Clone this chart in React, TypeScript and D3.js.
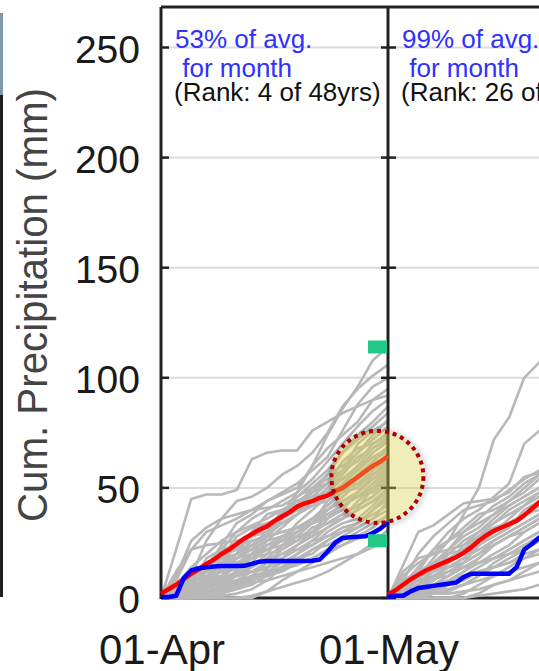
import React from "react";
import * as d3 from "d3";

const W = 539;
const H = 671;

// ---- data ----
const yTickValues = [0, 50, 100, 150, 200, 250];
const monthStarts = [Date.UTC(2000, 3, 1), Date.UTC(2000, 4, 1), Date.UTC(2000, 5, 1)];
const pctLabels = ["53% of avg.", "99% of avg."];
const monthLabel = " for month";
const rankLabels = ["(Rank: 4 of 48yrs)", "(Rank: 26 of 48yrs)"];
const yTitle = "Cum. Precipitation (mm)";

// daily cumulative values (day 0 = 1st of month)
const aprilAvg = [2, 4, 6, 8.5, 11, 13, 15.5, 17.5, 20, 22, 24.5, 27, 29, 31, 32.5, 35, 37, 39, 41.5, 43, 44, 45.5, 46.5, 48.5, 50, 52.5, 55, 57.5, 60, 62, 64.5];
const aprilCurrent = [0.5, 0.5, 1, 9, 12.5, 13.5, 14, 14.3, 14.5, 14.5, 14.5, 14.6, 15.5, 16.5, 16.8, 16.8, 16.8, 16.8, 16.8, 16.8, 16.9, 17.5, 21, 25, 27.3, 27.6, 27.8, 28, 29.5, 31.5, 34.5];
const mayAvg = [1.5, 3.5, 6, 8.5, 10.5, 12.5, 14, 15.5, 17, 18.5, 20.5, 23, 26, 28.5, 30.5, 32, 33.5, 35, 37.5, 40.5, 43.5, 46];
const mayCurrent = [0.5, 1, 1, 3, 4.5, 5, 5.5, 6, 6.5, 7, 9.5, 11, 11, 11, 11, 11, 11, 14, 22, 24.5, 27.5, 29];

// past years, sampled every 2 days
const sampleStep = 2;
const aprilYears = [
  [0, 1, 3, 6, 10, 14, 20, 28, 38, 48, 60, 74, 86, 96, 108, 114],
  [0, 22, 45, 47, 47, 49, 63, 66, 67, 67, 76, 80, 84, 87, 90, 92],
  [0, 4, 10, 26, 36, 44, 46, 50, 56, 60, 66, 75, 87, 95, 101, 106],
  [0, 1, 8, 14, 24, 34, 38, 44, 48, 52, 58, 64, 76, 88, 96, 100],
  [0, 8, 22, 30, 33, 36, 40, 44, 47, 50, 60, 68, 74, 80, 90, 95],
  [0, 3, 10, 14, 22, 30, 36, 40, 44, 48, 54, 62, 70, 78, 85, 90],
  [0, 0, 6, 12, 16, 20, 24, 30, 38, 44, 48, 56, 66, 74, 80, 87],
  [0, 10, 26, 32, 36, 38, 40, 41, 42, 46, 52, 58, 66, 72, 78, 84],
  [0, 2, 4, 8, 16, 24, 28, 32, 36, 42, 50, 56, 60, 66, 74, 81],
  [0, 0, 2, 6, 10, 18, 24, 28, 34, 38, 44, 50, 58, 66, 72, 78],
  [0, 6, 14, 20, 26, 30, 33, 36, 40, 42, 46, 52, 58, 62, 70, 75],
  [0, 4, 9, 14, 18, 24, 28, 30, 34, 38, 44, 48, 54, 60, 68, 73],
  [0, 1, 3, 5, 8, 12, 18, 26, 32, 38, 42, 46, 52, 58, 66, 71],
  [0, 0, 0, 4, 8, 10, 14, 18, 24, 30, 36, 42, 48, 56, 62, 69],
  [0, 12, 22, 24, 25, 26, 28, 30, 34, 38, 42, 46, 50, 56, 62, 67],
  [0, 2, 6, 12, 16, 18, 22, 26, 28, 32, 36, 42, 48, 54, 60, 65],
  [0, 0, 3, 6, 10, 14, 18, 22, 26, 30, 34, 40, 46, 52, 58, 63],
  [0, 5, 10, 16, 19, 22, 24, 28, 30, 32, 36, 40, 44, 48, 56, 62],
  [0, 0, 0, 2, 4, 6, 10, 16, 22, 28, 34, 40, 44, 48, 54, 60],
  [0, 3, 8, 10, 14, 16, 18, 22, 26, 30, 34, 38, 42, 46, 52, 58],
  [0, 1, 2, 2, 8, 12, 12, 13, 24, 28, 28, 36, 40, 41, 50, 56],
  [0, 0, 2, 6, 9, 10, 12, 14, 18, 24, 30, 34, 38, 42, 46, 54],
  [0, 7, 12, 13, 14, 16, 20, 24, 26, 28, 30, 34, 38, 42, 46, 52],
  [0, 0, 0, 0, 1, 2, 4, 8, 14, 20, 26, 32, 36, 40, 44, 50],
  [0, 2, 4, 6, 7, 8, 12, 16, 20, 24, 28, 32, 36, 40, 44, 48],
  [0, 0, 1, 2, 4, 6, 8, 10, 14, 18, 22, 26, 30, 34, 40, 45],
  [0, 4, 6, 8, 9, 10, 12, 14, 16, 20, 24, 28, 32, 34, 38, 42],
  [0, 0, 0, 0, 0, 0, 0, 3, 8, 12, 16, 20, 24, 28, 32, 38],
  [0, 1, 2, 3, 5, 7, 9, 11, 13, 15, 18, 22, 24, 27, 30, 34],
  [0, 0, 0, 0, 0, 0, 1, 3, 5, 7, 9, 12, 16, 20, 25, 31],
  [0, 0, 1, 2, 3, 5, 7, 8, 10, 12, 14, 16, 18, 20, 23, 26],
  [0, 3, 5, 14, 20, 22, 30, 38, 40, 42, 50, 54, 58, 70, 76, 80],
  [0, 0, 4, 10, 12, 20, 30, 34, 36, 46, 50, 52, 62, 68, 70, 74],
  [0, 2, 12, 16, 18, 20, 22, 30, 40, 44, 46, 48, 56, 64, 68, 72],
  [0, 6, 8, 10, 18, 28, 32, 34, 36, 40, 48, 52, 54, 58, 64, 68],
  [0, 1, 6, 18, 22, 24, 26, 28, 36, 40, 42, 44, 50, 60, 64, 66],
  [0, 0, 2, 4, 14, 18, 20, 24, 26, 34, 40, 46, 48, 50, 58, 64],
  [0, 4, 10, 12, 14, 20, 26, 28, 30, 32, 34, 44, 50, 52, 56, 61],
  [0, 2, 3, 8, 12, 14, 16, 24, 28, 30, 36, 38, 40, 48, 54, 59],
  [0, 0, 1, 6, 8, 12, 20, 22, 24, 26, 30, 38, 42, 46, 50, 57],
  [0, 5, 6, 7, 10, 16, 18, 20, 28, 32, 34, 36, 44, 46, 48, 55],
  [0, 1, 4, 10, 12, 13, 14, 20, 22, 26, 32, 34, 36, 44, 50, 53],
  [0, 0, 0, 1, 6, 10, 12, 16, 18, 22, 24, 30, 34, 36, 42, 49],
  [0, 2, 8, 9, 10, 11, 14, 18, 20, 22, 26, 28, 30, 34, 40, 47],
  [0, 0, 2, 3, 4, 8, 10, 12, 16, 18, 20, 26, 30, 32, 36, 44],
  [0, 3, 4, 5, 6, 7, 8, 12, 14, 16, 22, 24, 28, 32, 36, 40],
  [0, 0, 0, 1, 2, 4, 6, 10, 12, 16, 18, 22, 26, 30, 34, 37],
];
const mayYears = [
  [0, 4, 10, 18, 26, 38, 50, 72, 82, 100, 107, 110],
  [0, 6, 14, 22, 30, 36, 40, 46, 52, 70, 76, 79],
  [0, 15, 30, 33, 38, 43, 44, 45, 48, 55, 57, 60],
  [0, 8, 20, 28, 34, 40, 42, 44, 49, 54, 58, 62],
  [0, 2, 12, 22, 26, 30, 36, 42, 46, 52, 56, 59],
  [0, 10, 16, 20, 26, 32, 38, 40, 44, 48, 54, 57],
  [0, 3, 6, 14, 22, 28, 32, 38, 42, 46, 50, 54],
  [0, 1, 4, 8, 16, 24, 30, 34, 40, 44, 48, 52],
  [0, 5, 12, 16, 20, 22, 26, 30, 36, 42, 46, 50],
  [0, 0, 2, 6, 10, 16, 24, 30, 34, 38, 42, 46],
  [0, 12, 18, 20, 22, 24, 28, 32, 34, 38, 40, 44],
  [0, 2, 6, 10, 14, 18, 22, 26, 30, 34, 38, 42],
  [0, 0, 0, 2, 6, 12, 18, 24, 28, 32, 36, 40],
  [0, 6, 10, 12, 14, 16, 20, 24, 28, 30, 34, 38],
  [0, 1, 3, 6, 10, 14, 16, 18, 22, 26, 30, 34],
  [0, 0, 1, 2, 4, 6, 10, 16, 20, 24, 28, 32],
  [0, 4, 8, 10, 12, 14, 16, 18, 20, 22, 26, 30],
  [0, 0, 0, 0, 0, 2, 6, 10, 14, 18, 22, 26],
  [0, 2, 4, 6, 8, 10, 12, 14, 16, 18, 20, 24],
  [0, 0, 0, 0, 0, 0, 2, 6, 8, 12, 16, 20],
  [0, 1, 2, 3, 4, 6, 8, 10, 12, 14, 16, 18],
  [0, 0, 0, 0, 0, 0, 1, 2, 3, 4, 6, 9],
  [0, 2, 8, 16, 22, 30, 34, 38, 44, 50, 56, 58],
  [0, 4, 6, 12, 20, 26, 30, 36, 42, 46, 50, 54],
  [0, 8, 12, 14, 18, 22, 28, 34, 38, 42, 48, 50],
  [0, 0, 4, 10, 14, 18, 24, 28, 32, 40, 44, 46],
  [0, 3, 10, 12, 16, 22, 26, 30, 34, 38, 42, 45],
  [0, 1, 2, 8, 12, 16, 20, 26, 30, 34, 38, 42],
  [0, 5, 8, 9, 10, 14, 18, 24, 28, 32, 36, 40],
  [0, 0, 2, 4, 8, 12, 16, 20, 24, 30, 34, 37],
  [0, 2, 3, 4, 6, 10, 14, 18, 22, 26, 30, 33],
  [0, 0, 0, 2, 3, 6, 10, 14, 18, 22, 26, 30],
  [0, 1, 2, 3, 6, 8, 12, 14, 16, 20, 22, 25],
  [0, 0, 1, 2, 2, 3, 4, 6, 8, 10, 12, 14],
];
// highlight circle (day of April, value in mm)
const highlightDay = 28.6;
const highlightValue = 55;

const FONT = "'Liberation Sans', Arial, sans-serif";

export default function App() {
  const x = d3
    .scaleUtc()
    .domain([monthStarts[0], monthStarts[2]])
    .range([161, 161 + (61 * 227) / 30]);
  const y = d3.scaleLinear().domain([0, 250]).range([598, 47.5]);
  const top = 7;
  const left = x(monthStarts[0]);

  const line = d3
    .line<[number, number]>()
    .x((d) => x(d[0]))
    .y((d) => y(d[1]));

  const dayPts = (start: number, vals: number[], step: number) =>
    vals.map((v, i) => [d3.utcDay.offset(new Date(start), i * step).getTime(), v] as [number, number]);

  const aprEnd = monthStarts[1];
  const aprFinals = aprilYears.map((a) => a[a.length - 1]);
  const maxFinal = d3.max(aprFinals) as number;
  const minFinal = d3.min(aprFinals) as number;

  const cx = x(monthStarts[0] + highlightDay * 86400000);
  const cy = y(highlightValue);

  return (
    <svg width={W} height={H} style={{ position: "absolute", left: 0, top: 0, background: "#fff" }}>
      <defs>
        <filter id="blur" x="-30%" y="-30%" width="160%" height="160%">
          <feGaussianBlur stdDeviation="2" />
        </filter>
      </defs>
      <rect x={0} y={0} width={W} height={H} fill="#fff" />
      {/* left edge of neighbouring element */}
      <line x1={1.5} x2={1.5} y1={13} y2={597} stroke="#1e1e1e" strokeWidth={3} />
      <line x1={1.5} x2={1.5} y1={13} y2={95} stroke="#7d98ad" strokeWidth={3} />

      {/* gridlines */}
      {yTickValues
        .filter((v) => v > 0)
        .map((v) => (
          <line key={"g" + v} x1={left} x2={W} y1={y(v)} y2={y(v)} stroke="#dcdcdc" strokeWidth={2} />
        ))}

      {/* frame top/bottom */}
      <line x1={left} x2={W} y1={top} y2={top} stroke="#222" strokeWidth={3} />
      <line x1={left} x2={W} y1={y(0)} y2={y(0)} stroke="#222" strokeWidth={3} />

      {/* past years */}
      {aprilYears.map((a, i) => (
        <path key={"a" + i} d={line(dayPts(monthStarts[0], a, sampleStep)) || ""} fill="none" stroke="#b8b8b8" strokeWidth={2.6} strokeLinejoin="round" />
      ))}
      {mayYears.map((a, i) => (
        <path key={"m" + i} d={line(dayPts(monthStarts[1], a, sampleStep)) || ""} fill="none" stroke="#b8b8b8" strokeWidth={2.6} strokeLinejoin="round" />
      ))}

      {/* month dividers */}
      {monthStarts.map((m, i) => (
        <line key={"v" + i} x1={x(m)} x2={x(m)} y1={top} y2={y(0) + 1} stroke="#222" strokeWidth={3} />
      ))}
      {/* ticks */}
      {yTickValues.map((v) => (
        <g key={"t" + v}>
          <line x1={left} x2={left + 8} y1={y(v)} y2={y(v)} stroke="#222" strokeWidth={2.5} />
          {monthStarts.slice(1).map((m, i) => (
            <line key={i} x1={x(m) - 7} x2={x(m) + 8} y1={y(v)} y2={y(v)} stroke="#222" strokeWidth={2.5} />
          ))}
        </g>
      ))}

      {/* average and current year */}
      <path d={line(dayPts(monthStarts[0], aprilAvg, 1)) || ""} fill="none" stroke="#ff0000" strokeWidth={4.5} strokeLinejoin="round" />
      <path d={line(dayPts(monthStarts[1], mayAvg, 1)) || ""} fill="none" stroke="#ff0000" strokeWidth={4.5} strokeLinejoin="round" />
      <path d={line(dayPts(monthStarts[0], aprilCurrent, 1)) || ""} fill="none" stroke="#0000ff" strokeWidth={4.5} strokeLinejoin="round" />
      <path d={line(dayPts(monthStarts[1], mayCurrent, 1)) || ""} fill="none" stroke="#0000ff" strokeWidth={4.5} strokeLinejoin="round" />

      {/* max / min markers */}
      {[maxFinal, minFinal].map((v, i) => (
        <rect key={"mk" + i} x={x(aprEnd) - 20} y={y(v) - 6.5} width={19} height={13} fill="#20c987" />
      ))}

      {/* annotations */}
      {monthStarts.slice(0, 2).map((m, i) => (
        <g key={"ann" + i} fontFamily={FONT} fontSize={26}>
          <text x={x(m) + 14} y={48} fill="#3030ff">{pctLabels[i]}</text>
          <text x={x(m) + 14} y={77} fill="#3030ff" style={{ whiteSpace: "pre" }}>{monthLabel}</text>
          <text x={x(m) + 13} y={101} fill="#111">{rankLabels[i]}</text>
        </g>
      ))}

      {/* highlight */}
      <circle cx={cx + 1} cy={cy + 1} r={48} fill="none" stroke="rgba(0,0,0,0.2)" strokeWidth={3} filter="url(#blur)" />
      <circle cx={cx} cy={cy} r={46} fill="rgba(215,208,70,0.38)" stroke="#b00000" strokeWidth={4} strokeDasharray="4 4" />

      {/* y tick labels */}
      {yTickValues.map((v) => (
        <text key={"yl" + v} x={140} y={y(v) + 15} textAnchor="end" fontFamily={FONT} fontSize={39} fill="#1a1a1a">
          {v}
        </text>
      ))}
      {/* x labels */}
      {monthStarts.slice(0, 2).map((m, i) => (
        <text key={"xl" + i} x={x(m) + 1} y={664} textAnchor="middle" fontFamily={FONT} fontSize={42} fill="#1a1a1a">
          {d3.utcFormat("%d-%b")(new Date(m))}
        </text>
      ))}
      {/* y title */}
      <text
        transform="translate(47,305) rotate(-90)"
        textAnchor="middle"
        fontFamily={FONT}
        fontSize={42}
        fill="#444"
        textLength={434}
        lengthAdjust="spacingAndGlyphs"
      >
        {yTitle}
      </text>
    </svg>
  );
}
